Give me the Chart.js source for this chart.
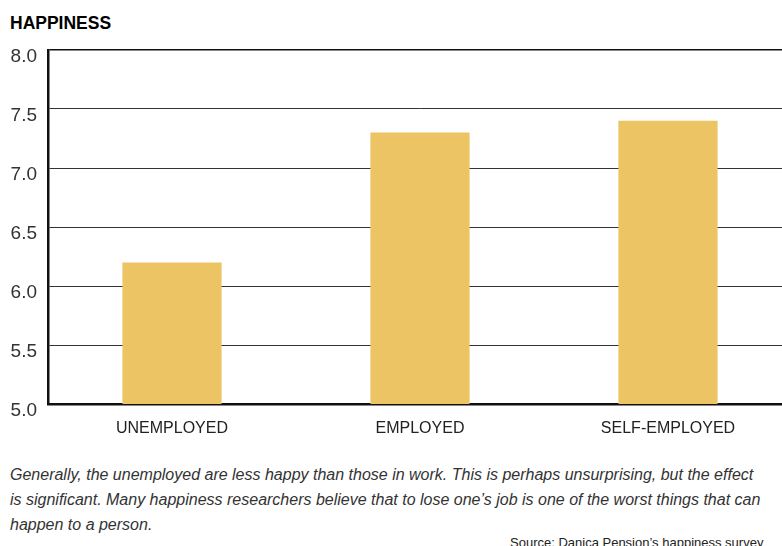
<!DOCTYPE html>
<html lang="en">
<head>
    <meta charset="UTF-8">
    <title>Happiness</title>
    <script src="https://cdn.jsdelivr.net/npm/chart.js"></script>
    <style>
        html, body { margin: 0; padding: 0; overflow: hidden; background: #fff; }
        body { width: 782px; height: 546px; position: relative; font-family: "Liberation Sans", Arial, sans-serif; }
        #title { position: absolute; left: 10px; top: 13px; font-weight: bold; font-size: 17.5px; color: #000; }
        #wrap { position: absolute; left: 0; top: 0; width: 800px; height: 440px; }
        #caption { position: absolute; left: 10px; top: 462px; font-style: italic; font-size: 16px; line-height: 25px; color: #333; white-space: nowrap; margin: 0; }
        #source { position: absolute; left: 510px; top: 535px; font-size: 13px; color: #222; white-space: nowrap; }
    </style>
</head>
<body>
    <div id="title">HAPPINESS</div>
    <div id="wrap"><canvas id="chart" width="800" height="440"></canvas></div>
    <p id="caption">Generally, the unemployed are less happy than those in work. This is perhaps unsurprising, but the effect<br>is significant. Many happiness researchers believe that to lose one’s job is one of the worst things that can<br>happen to a person.</p>
    <div id="source">Source: Danica Pension’s happiness survey</div>

    <script>
        const categories = ['UNEMPLOYED', 'EMPLOYED', 'SELF-EMPLOYED'];
        const happiness = [6.2, 7.3, 7.4];
        const yTicks = [5.0, 5.5, 6.0, 6.5, 7.0, 7.5, 8.0];

        new Chart(document.getElementById('chart').getContext('2d'), {
            type: 'bar',
            data: {
                labels: categories,
                datasets: [{
                    data: happiness,
                    backgroundColor: '#ECC464',
                    barPercentage: 0.4,
                    categoryPercentage: 1.0
                }]
            },
            options: {
                responsive: false,
                animation: false,
                plugins: { legend: { display: false }, tooltip: { enabled: false } },
                layout: { padding: { left: 0, top: 50, right: 8, bottom: 0 } },
                scales: {
                    x: {
                        grid: { display: false },
                        border: { display: true, color: '#111', width: 2.5 },
                        ticks: { color: '#222', font: { family: 'Liberation Sans', size: 16 }, padding: 7 },
                        afterFit: s => { s.height = 36; }
                    },
                    y: {
                        min: yTicks[0],
                        max: yTicks[yTicks.length - 1],
                        afterBuildTicks: s => { s.ticks = yTicks.map(v => ({ value: v })); },
                        afterFit: s => { s.width = 48; },
                        border: { display: true, color: '#111', width: 2.5 },
                        grid: {
                            drawTicks: false,
                            color: c => c.tick && c.tick.value === 8 ? '#111' : '#333',
                            lineWidth: c => c.tick && c.tick.value === 8 ? 1.5 : 1
                        },
                        ticks: {
                            color: '#333',
                            font: { family: 'Liberation Sans', size: 19 },
                            padding: 11,
                            labelOffset: 7,
                            callback: v => Number(v).toFixed(1)
                        }
                    }
                }
            }
        });
    </script>
</body>
</html>
